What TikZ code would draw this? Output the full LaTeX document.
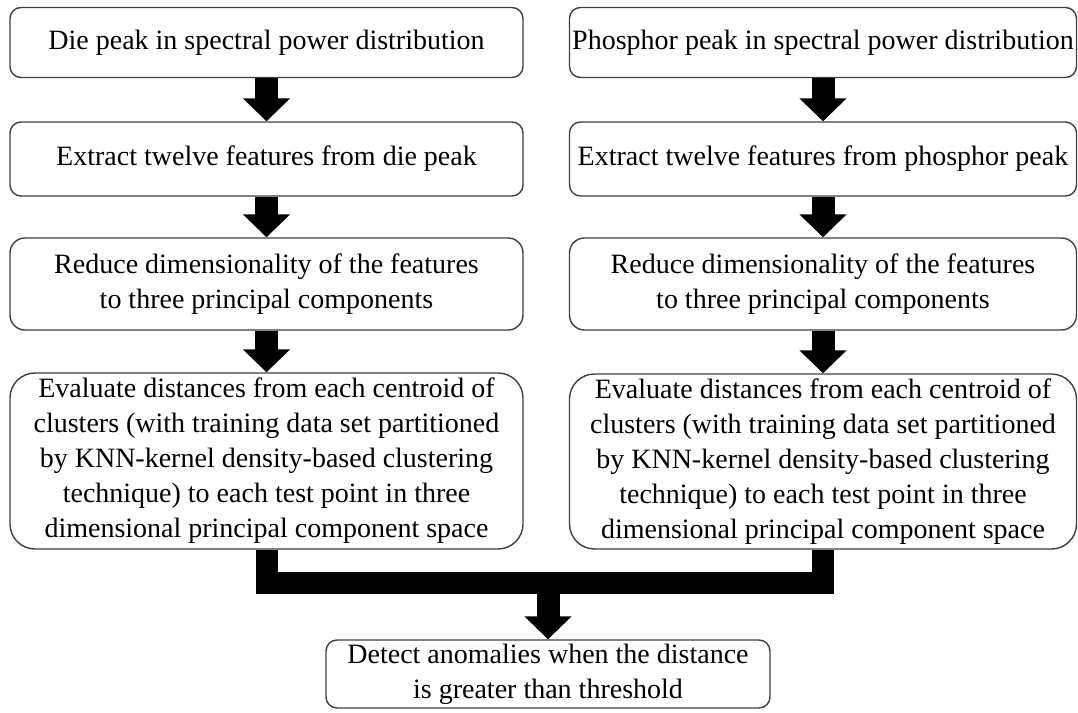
\documentclass[tikz,border=0pt]{standalone}
\usepackage{fontspec}
\setmainfont{Liberation Serif}
\usetikzlibrary{arrows.meta}
\tikzset{
  stepbox/.style={draw=black!75, line width=1.4pt, fill=white, align=center,
    inner sep=0pt, text=black, font=\fontsize{28}{35}\selectfont},
  leftcol/.style={minimum width=513pt},
  rightcol/.style={minimum width=507pt},
  flow/.style={line width=23pt, draw=black, -{Triangle[length=23pt,width=46pt]}},
  merge/.style={line width=22pt, draw=black, line join=miter},
}
\begin{document}
\begin{tikzpicture}[x=1pt,y=-1pt]
\useasboundingbox (0,0) rectangle (1078,712);

% left chain: die peak
\node[stepbox, leftcol, minimum height=70pt, rounded corners=11pt] (l1) at (266.5,42.5)
  {Die peak in spectral power distribution};
\node[stepbox, leftcol, minimum height=74pt, rounded corners=11pt] (l2) at (266.5,159)
  {Extract twelve features from die peak};
\node[stepbox, leftcol, minimum height=92pt, rounded corners=15pt] (l3) at (266.5,284)
  {Reduce dimensionality of the features\\ to three principal components};
\node[stepbox, leftcol, minimum height=176pt, rounded corners=25pt] (l4) at (266.5,461)
  {Evaluate distances from each centroid of\\ clusters (with training data set partitioned\\
   by KNN-kernel density-based clustering\\ technique) to each test point in three\\
   dimensional principal component space};

% right chain: phosphor peak
\node[stepbox, rightcol, minimum height=70pt, rounded corners=11pt] (r1) at (823,42.5)
  {Phosphor peak in spectral power distribution};
\node[stepbox, rightcol, minimum height=74pt, rounded corners=11pt] (r2) at (823,159)
  {Extract twelve features from phosphor peak};
\node[stepbox, rightcol, minimum height=92pt, rounded corners=15pt] (r3) at (823,284)
  {Reduce dimensionality of the features\\ to three principal components};
\node[stepbox, rightcol, minimum height=175pt, rounded corners=25pt] (r4) at (823,461.5)
  {Evaluate distances from each centroid of\\ clusters (with training data set partitioned\\
   by KNN-kernel density-based clustering\\ technique) to each test point in three\\
   dimensional principal component space};

% final decision
\node[stepbox, minimum width=444pt, minimum height=68pt, rounded corners=11pt] (fin) at (548,674)
  {Detect anomalies when the distance\\ is greater than threshold};

% block arrows down each chain
\draw[flow] (l1.south) -- (l2.north);
\draw[flow] (l2.south) -- (l3.north);
\draw[flow] (l3.south) -- (l4.north);
\draw[flow] (r1.south) -- (r2.north);
\draw[flow] (r2.south) -- (r3.north);
\draw[flow] (r3.south) -- (r4.north);

% joining bar and arrow to the decision box
\coordinate (join) at (548,583);
\draw[merge] (l4.south) -- (l4.south |- join) -- (r4.south |- join) -- (r4.south);
\draw[flow] (join) -- (fin.north);
\end{tikzpicture}
\end{document}
